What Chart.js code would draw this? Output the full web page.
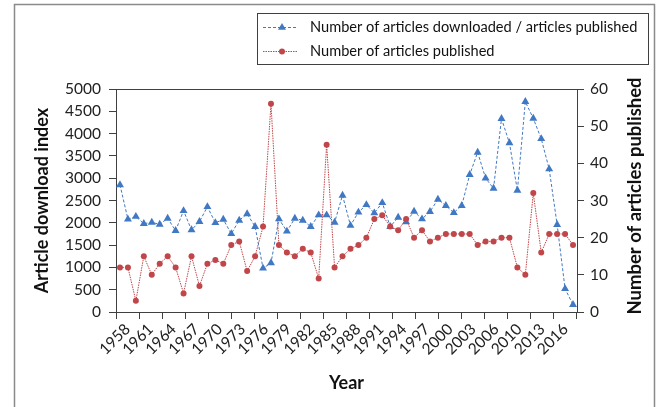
<!DOCTYPE html>
<html>
<head>
<meta charset="utf-8">
<script src="https://cdn.jsdelivr.net/npm/chart.js@4"></script>
<style>
html,body{margin:0;padding:0;background:#fff;}
#wrap{width:662px;height:407px;position:relative;}
</style>
</head>
<body>
<div id="wrap"><canvas id="c" width="662" height="407"></canvas></div>
<script>
const years = [1958,1959,1960,1961,1962,1963,1964,1965,1966,1967,1968,1969,1970,1971,1972,1973,1974,1975,1976,1977,1978,1979,1980,1981,1982,1983,1984,1985,1986,1987,1988,1989,1990,1991,1992,1993,1994,1995,1996,1997,1998,1999,2000,2001,2002,2003,2004,2005,2006,2007,2008,2010,2011,2012,2013,2014,2015,2016];
const tickLabels = ['1958','1961','1964','1967','1970','1973','1976','1979','1982','1985','1988','1991','1994','1997','2000','2003','2006','2010','2013','2016'];
const downloadIndex = [2850,2080,2140,1980,2010,1965,2100,1825,2270,1840,2025,2360,2000,2075,1755,2055,2200,1915,980,1100,2085,1810,2100,2055,1915,2175,2175,2010,2615,1940,2235,2405,2220,2450,1915,2120,2020,2255,2085,2250,2525,2385,2225,2385,3080,3580,3000,2770,4335,3790,2725,4715,4340,3885,3205,1960,520,165];
const published = [12,12,3,15,10,13,15,12,5,15,7,13,14,13,18,19,11,15,23,56,18,16,15,17,16,9,45,12,15,17,18,20,25,26,23,22,25,20,22,19,20,21,21,21,21,18,19,19,20,20,12,10,32,16,21,21,21,18];
const seriesNames = ['Number of articles downloaded / articles published','Number of articles published'];
const leftTitle = 'Article download index';
const rightTitle = 'Number of articles published';
const xTitle = 'Year';

const FONT = 'Lato, "Open Sans", sans-serif';
const BLUE = '#4178c4';
const RED = '#c0464a';
const AX = '#404040';

const framePlugin = {
  id: 'frame',
  beforeDraw(chart) {
    const ctx = chart.ctx;
    ctx.save();
    ctx.fillStyle = '#fff';
    ctx.fillRect(0, 0, chart.width, chart.height);
    ctx.strokeStyle = '#8a8a8a';
    ctx.lineWidth = 1.5;
    ctx.strokeRect(14.5, 4.5, 640, 420);
    ctx.restore();
  },
  afterDraw(chart) {
    const ctx = chart.ctx;
    const ca = chart.chartArea;
    ctx.save();
    ctx.strokeStyle = AX;
    ctx.lineWidth = 1;
    ctx.beginPath();
    ctx.moveTo(ca.left, Math.round(ca.top) + 0.5);
    ctx.lineTo(ca.right, Math.round(ca.top) + 0.5);
    ctx.stroke();
    ctx.translate(635, 196);
    ctx.rotate(-Math.PI / 2);
    ctx.font = 'bold 18.5px ' + FONT;
    ctx.fillStyle = '#111';
    ctx.textAlign = 'center';
    ctx.textBaseline = 'middle';
    ctx.fillText(rightTitle, 0, 0);
    ctx.restore();

    ctx.save();
    ctx.strokeStyle = AX;
    ctx.lineWidth = 1;
    ctx.strokeRect(257.5, 13.5, 391, 51);
    chart.data.datasets.forEach((ds, i) => {
      const y = 27.5 + 24 * i;
      ctx.save();
      ctx.strokeStyle = ds.borderColor;
      ctx.lineWidth = 1;
      ctx.setLineDash(ds.borderDash);
      ctx.beginPath();
      ctx.moveTo(263, y);
      ctx.lineTo(298, y);
      ctx.stroke();
      ctx.restore();
      ctx.fillStyle = ds.pointBackgroundColor;
      ctx.beginPath();
      if (ds.pointStyle === 'triangle') {
        const r = 4.6;
        ctx.moveTo(282, y - r);
        ctx.lineTo(282 + r * 0.866, y + r * 0.5);
        ctx.lineTo(282 - r * 0.866, y + r * 0.5);
        ctx.closePath();
      } else {
        ctx.arc(282, y, 3, 0, Math.PI * 2);
      }
      ctx.fill();
      ctx.fillStyle = '#111';
      ctx.font = '14.6px ' + FONT;
      ctx.textAlign = 'left';
      ctx.textBaseline = 'middle';
      ctx.fillText(ds.label, 310, y);
    });
    ctx.restore();
  }
};

new Chart(document.getElementById('c'), {
  type: 'line',
  data: {
    labels: years,
    datasets: [
      {
        label: seriesNames[0],
        data: downloadIndex,
        yAxisID: 'y',
        xAxisID: 'x',
        borderColor: BLUE,
        borderWidth: 1,
        borderDash: [3, 2],
        pointStyle: 'triangle',
        pointRadius: 4.6,
        pointBackgroundColor: BLUE,
        pointBorderColor: BLUE,
        pointBorderWidth: 0,
        tension: 0,
        order: 2
      },
      {
        label: seriesNames[1],
        data: published,
        yAxisID: 'y1',
        xAxisID: 'x',
        borderColor: RED,
        borderWidth: 1,
        borderDash: [1.5, 1],
        pointStyle: 'circle',
        pointRadius: 3,
        pointBackgroundColor: RED,
        pointBorderColor: RED,
        pointBorderWidth: 0,
        tension: 0,
        order: 1
      }
    ]
  },
  options: {
    responsive: false,
    animation: false,
    devicePixelRatio: 1,
    layout: { padding: { top: 89, left: 0, right: 0, bottom: 0 } },
    plugins: { legend: { display: false }, tooltip: { enabled: false } },
    scales: {
      x: {
        type: 'category',
        display: false,
        offset: true
      },
      x2: {
        type: 'category',
        labels: tickLabels,
        position: 'bottom',
        offset: true,
        grid: { offset: true, drawOnChartArea: false, tickLength: 7, color: AX, lineWidth: 1 },
        border: { color: AX, width: 1 },
        ticks: { autoSkip: false, maxRotation: 45, minRotation: 45, padding: 1, color: '#222', font: { family: FONT, size: 15.5 } },
        title: { display: true, text: xTitle, color: '#111', font: { family: FONT, size: 18, weight: 'bold' }, padding: { top: 0, bottom: 13 } },
        afterFit(s) { s.height = 95; }
      },
      y: {
        position: 'left',
        min: 0, max: 5000,
        ticks: { stepSize: 500, padding: 8, color: '#222', font: { family: FONT, size: 15.5 }, callback: v => String(v) },
        grid: { drawOnChartArea: false, tickLength: 7, color: AX },
        border: { color: AX, width: 1 },
        title: { display: true, text: leftTitle, color: '#111', font: { family: FONT, size: 18, weight: 'bold' }, padding: { top: 31, bottom: 0 } },
        afterFit(s) { s.width = 116; }
      },
      y1: {
        position: 'right',
        min: 0, max: 60,
        ticks: { stepSize: 10, padding: 6, color: '#222', font: { family: FONT, size: 15.5 }, callback: v => String(v) },
        grid: { drawOnChartArea: false, tickLength: 7, color: AX },
        border: { color: AX, width: 1 },
        afterFit(s) { s.width = 85; }
      }
    }
  },
  plugins: [framePlugin]
});
</script>
</body>
</html>
